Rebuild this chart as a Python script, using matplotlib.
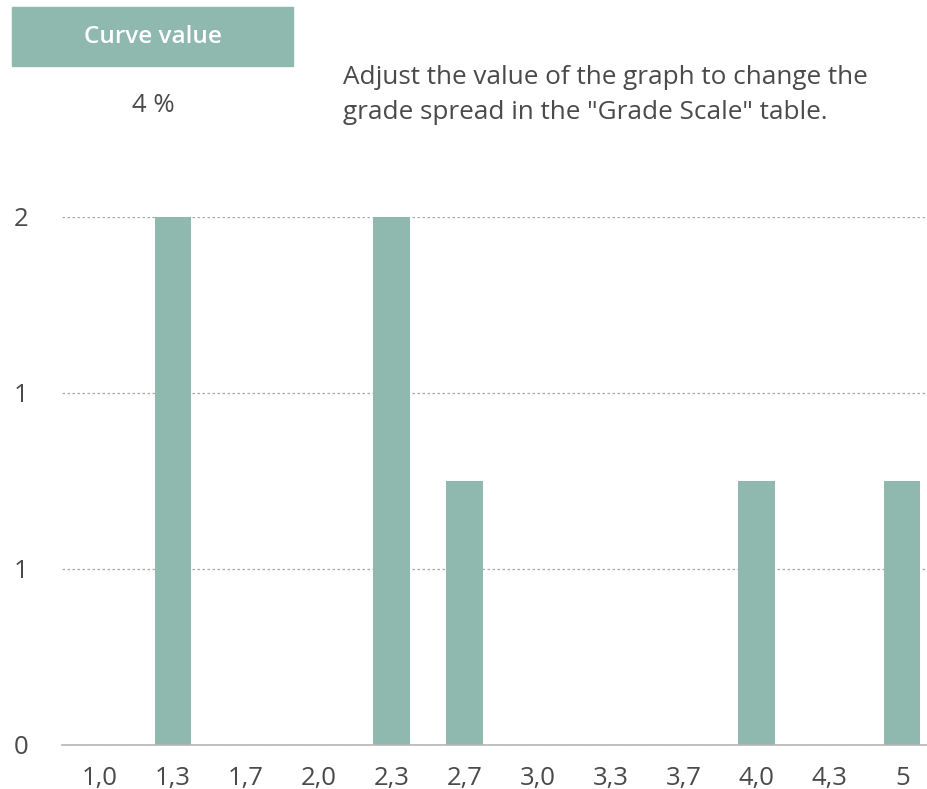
import matplotlib
matplotlib.use("Agg")
import matplotlib.pyplot as plt
from matplotlib.patches import Rectangle
from matplotlib.ticker import FixedLocator, FixedFormatter

# grade categories and number of students per grade
grades = ["1,0", "1,3", "1,7", "2,0", "2,3", "2,7", "3,0", "3,3", "3,7", "4,0", "4,3", "5"]
counts = [0, 2, 0, 0, 2, 1, 0, 0, 0, 1, 0, 1]

# y ticks as the source shows them (rounded labels)
ytick_values = [0, 2 / 3, 4 / 3, 2]
ytick_labels = ["0", "1", "1", "2"]

curve_value = "4 %"
note = 'Adjust the value of the graph to change the\ngrade spread in the "Grade Scale" table.'

bar_color = "#8fb9af"
text_color = "#4a4a4a"

plt.rcParams["font.family"] = ["Open Sans", "DejaVu Sans"]

W, H = 927, 789
fig = plt.figure(figsize=(W / 100, H / 100), dpi=100)

# header box with curve value
fig.patches.append(Rectangle((12 / W, 1 - 66 / H), 281 / W, 59 / H,
                             transform=fig.transFigure, color=bar_color, zorder=0))
fig.text(153 / W, 1 - 37 / H, "Curve value", color="white", fontsize=17.5,
         fontweight="semibold", ha="center", va="center")
fig.text(153 / W, 1 - 105 / H, curve_value, color=text_color, fontsize=18.5,
         ha="center", va="center")
fig.text(343 / W, 1 - 95 / H, note, color=text_color, fontsize=18.8,
         ha="left", va="center", linespacing=1.5)

# bar chart
ax = fig.add_axes([62 / W, 44 / H, (W - 62) / W, (745 - 217) / H])
x = list(range(len(grades)))
ax.bar(x, counts, width=0.5, color=bar_color, zorder=2)
ax.set_xlim(-0.52, 11.34)
ax.set_ylim(0, 2)

ax.set_xticks(x)
ax.set_xticklabels(grades)
ax.yaxis.set_major_locator(FixedLocator(ytick_values))
ax.yaxis.set_major_formatter(FixedFormatter(ytick_labels))
ax.tick_params(axis="x", length=0, pad=15, labelsize=18.5, labelcolor=text_color)
ax.tick_params(axis="y", length=0, pad=24, labelsize=18.5, labelcolor=text_color)

ax.grid(axis="y", color="#a8a8a8", linestyle=(0, (2, 2)), linewidth=0.9, zorder=1)
ax.grid(axis="x", visible=False)
for s in ["top", "right", "left"]:
    ax.spines[s].set_visible(False)
ax.spines["bottom"].set_color("#b5b5b5")
ax.spines["bottom"].set_linewidth(1.2)
ax.spines["bottom"].set_zorder(3)

fig.savefig("out.png", dpi=100)
